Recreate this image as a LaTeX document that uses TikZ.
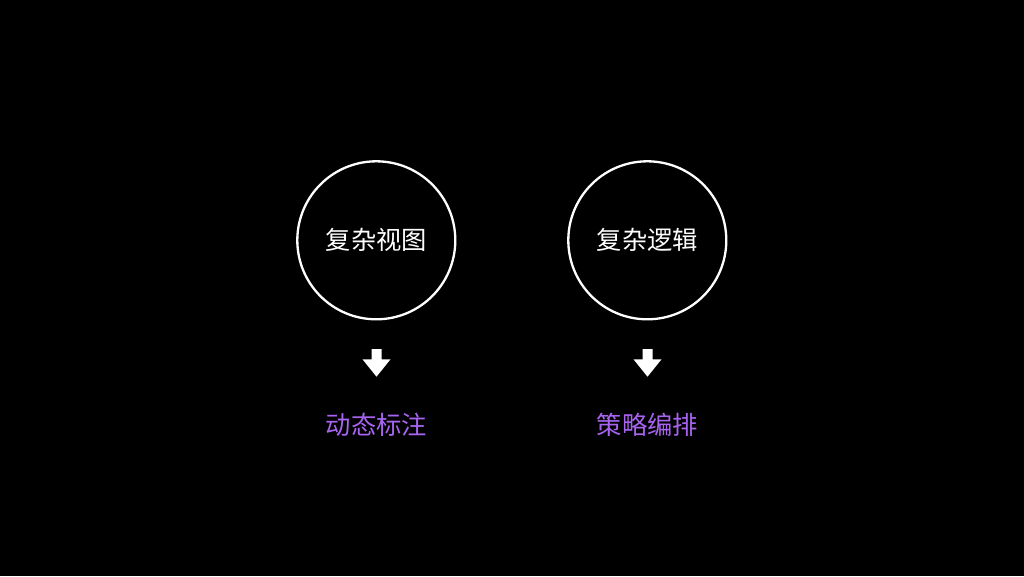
\documentclass[tikz,border=0pt]{standalone}
\usepackage{fontspec}
\newfontfamily\cjk{Noto Sans CJK SC}
\definecolor{accent}{RGB}{168,100,240}
\tikzset{
  ring/.style={circle,draw=white,line width=2.3pt,minimum size=158pt,inner sep=0pt,
    text=white,font=\cjk\fontsize{25.3}{25.3}\selectfont},
  result/.style={text=accent,font=\cjk\fontsize{25.3}{25.3}\selectfont,inner sep=0pt},
  downarrow/.style={fill=white,draw=none}
}
\begin{document}
\begin{tikzpicture}[x=1pt,y=-1pt]
\useasboundingbox[fill=black] (0,0) rectangle (1024,576);
\node[ring] (c1) at (376.3,240.3) {复杂视图};
\node[ring] (c2) at (647.3,240.3) {复杂逻辑};
\coordinate (a1) at (376.5,349);
\coordinate (a2) at (647.5,349);
\foreach \a in {a1,a2}{
  \fill[downarrow] (\a) ++(-5,0) -- ++(10,0) -- ++(0,10.3) -- ++(9,0)
    -- ++(-14,17.4) -- ++(-14,-17.4) -- ++(9,0) -- cycle;
}
\node[result] (t1) at (376.5,425) {动态标注};
\node[result] (t2) at (647.5,425) {策略编排};
\end{tikzpicture}
\end{document}
